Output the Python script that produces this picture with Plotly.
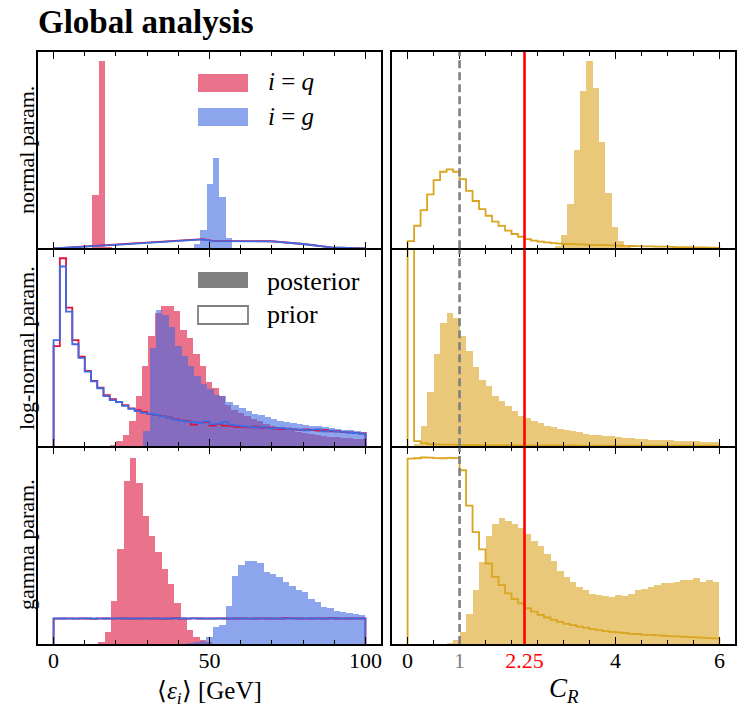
import plotly.graph_objects as go
from plotly.subplots import make_subplots

# --- left column, <eps_i> [GeV] ---
# normal param.
q_norm_post_start, q_norm_post_w = 12.45, 2.05
q_norm_post = [27.0, 95.6, 0.8]
g_norm_post_start, g_norm_post_w = 45.0, 2.05
g_norm_post = [2.4, 9.2, 32.7, 45.8, 25.9, 5.5]
norm_prior_x = [0, 10, 20, 30, 40, 48, 51, 60, 70, 80, 85, 89, 100]
q_norm_prior = [0, 0.9, 1.9, 2.9, 3.9, 4.7, 3.8, 3.7, 3.6, 2.2, 1.2, 0.5, 0]
g_norm_prior = [0, 0.8, 1.8, 2.8, 3.8, 4.6, 3.7, 3.6, 3.5, 2.2, 1.2, 0.5, 0]

# log-normal param.
q_logn_post_start, q_logn_post_w = 18.1, 2.05
q_logn_post = [0.8, 2.5, 5.6, 12.7, 25.4, 40.7, 56.0, 68.0, 71.7, 71.7,
               69.0, 59.3, 55.0, 47.0, 40.7, 32.7, 29.7, 25.4, 21.0, 18.6,
               16.8, 15.2, 14.0, 12.8, 11.6, 10.6, 9.6, 8.7, 7.9, 7.2,
               6.7, 6.2, 5.8, 5.3, 4.9, 4.6, 4.3, 4.1, 3.9, 3.8]
g_logn_post_start, g_logn_post_w = 28.75, 2.05
g_logn_post = [8.0, 50.0, 69.5, 67.0, 61.0, 51.0, 46.0, 40.7, 35.6, 32.0,
               29.0, 26.0, 25.4, 22.5, 21.0, 19.5, 17.8, 16.4, 15.8, 14.7,
               14.0, 13.0, 12.2, 11.7, 11.4, 11.0, 10.5, 10.2, 9.7, 9.3,
               9.0, 8.5, 8.1, 7.6, 7.4]
prior_gev_start, prior_gev_w = 0.0, 2.0
q_logn_prior = [51.0, 95.7, 70.6, 54.0, 45.6, 38.3, 33.2, 29.8, 26.0, 24.0,
                22.6, 20.9, 19.2, 18.4, 17.5, 16.3, 15.8, 15.3, 14.6, 13.8,
                13.1, 12.8, 11.0, 12.0, 12.2, 10.5, 11.2, 10.5, 10.2, 9.8,
                9.8, 9.6, 10.0, 9.3, 9.4, 9.0, 8.7, 8.9, 8.5, 8.3,
                8.6, 8.2, 7.9, 8.3, 7.5, 7.6, 7.2, 7.0, 6.7, 6.5]
g_logn_prior = [54.0, 91.5, 68.5, 51.9, 45.0, 38.0, 33.0, 29.5, 25.5, 23.5,
                22.5, 20.5, 19.0, 17.8, 17.0, 16.5, 16.0, 15.2, 14.5, 13.5,
                13.0, 12.5, 12.3, 11.8, 12.8, 11.2, 11.5, 12.4, 10.8, 10.5,
                10.2, 9.8, 9.5, 9.7, 9.2, 9.1, 9.3, 8.8, 8.6, 8.4,
                8.1, 8.4, 8.6, 7.5, 7.9, 7.4, 7.3, 6.9, 6.7, 6.3]

# gamma param.
q_gam_post_start, q_gam_post_w = 14.4, 2.03
q_gam_post = [1.0, 6.4, 21.9, 48.6, 83.1, 94.9, 82.0, 65.4, 55.3, 46.9,
              38.4, 30.9, 20.9, 13.2, 7.3, 3.9, 2.2, 1.0]
g_gam_post_start, g_gam_post_w = 42.9, 2.04
g_gam_post = [0.5, 1.0, 1.7, 3.9, 8.6, 9.8, 19.6, 35.0, 40.2, 42.7,
              42.2, 41.3, 36.9, 35.6, 34.1, 31.5, 29.8, 27.8, 26.5, 22.9,
              21.6, 19.2, 18.4, 17.2, 16.5, 15.9, 15.3, 14.7]
q_gam_prior = [12.9, 13.0, 13.1, 12.9, 13.0, 13.0, 12.8, 13.1, 13.0, 12.9,
               13.1, 13.0, 12.9, 13.0, 13.1, 12.9, 13.0, 12.8, 13.0, 13.2,
               13.0, 12.9, 13.1, 13.0, 12.9, 13.0, 13.1, 13.0, 12.9, 13.0,
               13.1, 12.9, 13.0, 13.1, 13.0, 12.9, 13.0, 13.2, 13.1, 13.0,
               12.9, 13.0, 13.1, 13.0, 13.2, 13.0, 12.9, 13.0, 13.1, 13.0]
g_gam_prior = [13.0, 13.0, 12.9, 13.0, 13.1, 13.0, 13.0, 12.9, 13.0, 13.0,
               13.1, 13.0, 13.0, 12.9, 13.0, 13.0, 13.1, 13.0, 12.9, 13.0,
               13.0, 13.0, 13.1, 13.0, 13.0, 12.9, 13.0, 13.0, 13.1, 13.0,
               13.0, 12.9, 13.0, 13.0, 13.1, 13.0, 13.0, 12.9, 13.0, 13.0,
               13.1, 13.0, 13.0, 12.9, 13.0, 13.0, 13.1, 13.0, 13.0, 13.0]

# --- right column, C_R ---
prior_cr_start, prior_cr_w = 0.0, 0.125
cr_norm_post_start, cr_norm_post_w = 2.83, 0.122
cr_norm_post = [1.2, 6.8, 22.5, 50.3, 80.0, 95.3, 81.7, 54.2, 28.0, 11.0, 3.6, 0.8]
cr_norm_prior = [3.7, 11.5, 19.5, 27.5, 34.7, 39.0, 40.2, 39.0,
                 35.3, 29.3, 24.1, 20.0, 16.6, 13.6, 11.4, 9.0,
                 7.3, 5.9, 4.7, 3.9, 3.4, 3.0, 2.7, 2.4,
                 2.2, 2.1, 2.0, 1.9, 1.8, 1.7, 1.6, 1.5,
                 1.4, 1.3, 1.2, 1.1, 1.0, 0.95, 0.9, 0.85,
                 0.7, 0.65, 0.6, 0.55, 0.5, 0.45, 0.4, 0.35]
cr_logn_post_start, cr_logn_post_w = 0.125, 0.125
cr_logn_post = [1.0, 10.2, 27.7, 46.8, 62.6, 67.7, 65.5, 56.1, 48.5, 40.5,
                34.0, 30.6, 25.5, 23.0, 20.4, 17.9, 15.6, 14.5, 12.8, 11.9,
                10.5, 9.9, 8.8, 8.5, 7.7, 7.1, 6.5, 6.0, 5.6, 5.4,
                5.1, 4.6, 4.3, 4.1, 3.9, 3.7, 3.4, 3.2, 3.2, 3.1,
                2.9, 2.7, 2.6, 2.6, 2.4, 2.4, 2.2]
cr_logn_prior = [300.0, 2.6, 1.5, 1.1, 0.9, 0.8, 0.75, 0.7,
                 0.65, 0.6, 0.58, 0.55, 0.52, 0.5, 0.48, 0.46,
                 0.44, 0.42, 0.4, 0.39, 0.38, 0.37, 0.36, 0.35,
                 0.34, 0.33, 0.32, 0.31, 0.3, 0.3, 0.29, 0.28,
                 0.28, 0.27, 0.27, 0.26, 0.26, 0.25, 0.25, 0.24,
                 0.24, 0.23, 0.23, 0.22, 0.22, 0.22, 0.21, 0.21]
cr_gam_post_start, cr_gam_post_w = 0.5, 0.125
cr_gam_post = [0.3, 0.3, 0.5, 2.2, 6.4, 15.2, 27.5, 41.8, 55.3, 61.2,
               64.1, 62.9, 61.2, 59.5, 56.2, 52.8, 50.3, 46.0, 42.2, 37.6,
               34.2, 31.7, 29.2, 27.5, 25.8, 25.0, 24.6, 24.1, 25.0, 24.6,
               25.5, 27.5, 28.3, 29.2, 30.0, 31.4, 31.4, 32.0, 32.9, 32.9,
               33.9, 31.7, 32.9, 32.0]
cr_gam_prior = [94.4, 94.6, 95.0, 94.9, 94.7, 94.6, 94.8, 94.7,
                88.5, 70.5, 57.0, 48.2, 41.0, 34.2, 30.0, 25.8,
                22.9, 20.7, 18.2, 16.5, 14.8, 13.5, 12.3, 11.3,
                10.3, 9.6, 8.9, 8.3, 7.6, 7.1, 6.6, 6.2,
                5.9, 5.6, 5.2, 5.1, 4.7, 4.6, 4.4, 4.2,
                4.0, 3.9, 3.7, 3.5, 3.4, 3.2, 3.0, 2.9]

cr_ref = 1.0
cr_true = 2.25
row_names = ["normal param.", "log-normal param.", "gamma param."]
gev_ticks = [0, 50, 100]
cr_ticks = [0, 1, 2.25, 4, 6]
cr_ticktext = ["0", "<span style='color:#808080'>1</span>",
               "<span style='color:red'>2.25</span>", "4", "6"]

RED = "rgba(220,20,60,0.6)"
BLUE = "rgba(65,105,225,0.6)"
GOLD = "rgba(218,165,32,0.6)"
RED_L, BLUE_L, GOLD_L = "crimson", "royalblue", "goldenrod"
FONT = "Liberation Serif"

W, H = 748, 718
ML, MR, MT, MB = 38, 13, 52, 74
PW, PH = W - ML - MR, H - MT - MB
LW = 1.5  # frame line width


def px(xp, yp):
    return (xp - ML) / PW, (H - MB - yp) / PH


# a gap of one line width lets the frames of stacked panels fall on one line
fig = make_subplots(rows=3, cols=2, horizontal_spacing=11 / PW, vertical_spacing=LW / PH)


def bars(start, width, heights, color, row, col):
    xs = [start + width * (i + 0.5) for i in range(len(heights))]
    fig.add_trace(go.Bar(x=xs, y=heights, width=width,
                         marker=dict(color=color, line=dict(width=0)),
                         showlegend=False, hoverinfo="skip"), row=row, col=col)


def steps(start, width, heights, color, row, col):
    edges = [start + width * i for i in range(len(heights) + 1)]
    xs = [edges[0]] + edges[:-1] + [edges[-1]]
    ys = [0] + list(heights) + [0]
    fig.add_trace(go.Scatter(x=xs, y=ys, mode="lines",
                             line=dict(color=color, width=1.8, shape="hv"),
                             showlegend=False, hoverinfo="skip"), row=row, col=col)


# left column
bars(q_norm_post_start, q_norm_post_w, q_norm_post, RED, 1, 1)
bars(g_norm_post_start, g_norm_post_w, g_norm_post, BLUE, 1, 1)
fig.add_trace(go.Scatter(x=norm_prior_x, y=q_norm_prior, mode="lines",
                         line=dict(color=RED_L, width=1.8), showlegend=False), row=1, col=1)
fig.add_trace(go.Scatter(x=norm_prior_x, y=g_norm_prior, mode="lines",
                         line=dict(color=BLUE_L, width=1.8), showlegend=False), row=1, col=1)

bars(q_logn_post_start, q_logn_post_w, q_logn_post, RED, 2, 1)
bars(g_logn_post_start, g_logn_post_w, g_logn_post, BLUE, 2, 1)
steps(prior_gev_start, prior_gev_w, q_logn_prior, RED_L, 2, 1)
steps(prior_gev_start, prior_gev_w, g_logn_prior, BLUE_L, 2, 1)

bars(q_gam_post_start, q_gam_post_w, q_gam_post, RED, 3, 1)
bars(g_gam_post_start, g_gam_post_w, g_gam_post, BLUE, 3, 1)
steps(prior_gev_start, prior_gev_w, q_gam_prior, RED_L, 3, 1)
steps(prior_gev_start, prior_gev_w, g_gam_prior, BLUE_L, 3, 1)

# right column
bars(cr_norm_post_start, cr_norm_post_w, cr_norm_post, GOLD, 1, 2)
steps(prior_cr_start, prior_cr_w, cr_norm_prior, GOLD_L, 1, 2)
bars(cr_logn_post_start, cr_logn_post_w, cr_logn_post, GOLD, 2, 2)
steps(prior_cr_start, prior_cr_w, cr_logn_prior, GOLD_L, 2, 2)
bars(cr_gam_post_start, cr_gam_post_w, cr_gam_post, GOLD, 3, 2)
steps(prior_cr_start, prior_cr_w, cr_gam_prior, GOLD_L, 3, 2)

for r in (1, 2, 3):
    fig.add_vline(x=cr_ref, row=r, col=2, line=dict(color="gray", width=2.6, dash="8px,4px"))
    fig.add_vline(x=cr_true, row=r, col=2, line=dict(color="red", width=2.6))

frame = dict(showline=True, linecolor="black", linewidth=LW, showgrid=False,
             zeroline=False, automargin=False)
for r in (1, 2, 3):
    fig.update_yaxes(range=[0, 100], showticklabels=False, ticks="", mirror=True,
                     row=r, col=1, **frame)
    fig.update_yaxes(range=[0, 100], showticklabels=False, ticks="", mirror=True,
                     row=r, col=2, **frame)
    fig.update_xaxes(range=[-5, 105], tickvals=gev_ticks, ticks="inside", ticklen=7,
                     tickwidth=1.3, tickcolor="black", mirror="ticks",
                     minor=dict(dtick=10, tick0=0, ticks="inside", ticklen=4,
                                tickwidth=1.1, tickcolor="black"),
                     showticklabels=(r == 3), ticklabelstandoff=-4,
                     tickfont=dict(family=FONT, size=22, color="black"),
                     row=r, col=1, **frame)
    fig.update_xaxes(range=[-0.3, 6.3], tickvals=cr_ticks, ticktext=cr_ticktext,
                     ticks="inside", ticklen=7, tickwidth=1.3, tickcolor="black",
                     mirror="ticks",
                     minor=dict(dtick=0.5, tick0=0, ticks="inside", ticklen=4,
                                tickwidth=1.1, tickcolor="black"),
                     showticklabels=(r == 3), ticklabelstandoff=-4,
                     tickfont=dict(family=FONT, size=22, color="black"),
                     row=r, col=2, **frame)

shapes = []
annots = []


def patch(x0, y0, x1, y1, fill, line):
    a0, b0 = px(x0, y0)
    a1, b1 = px(x1, y1)
    shapes.append(dict(type="rect", xref="paper", yref="paper", x0=a0, y0=b0, x1=a1, y1=b1,
                       fillcolor=fill, line=dict(color=line, width=1.8 if line else 0)))


def text(xp, yp, s, size, anchor="left", angle=0, color="black"):
    a, b = px(xp, yp)
    annots.append(dict(x=a, y=b, xref="paper", yref="paper", text=s, showarrow=False,
                       xanchor=anchor, yanchor="middle", textangle=angle,
                       font=dict(family=FONT, size=size, color=color)))


patch(198, 74, 248, 92, RED, None)
patch(198, 108, 248, 126, BLUE, None)
text(266, 82, "<i>i</i> = <i>q</i>", 25)
text(266, 116, "<i>i</i> = <i>g</i>", 25)
patch(198, 272, 248, 288, "#808080", None)
patch(198, 306, 248, 324, "white", "#808080")
text(265, 281, "posterior", 26)
text(265, 314, "prior", 26)

for name, yc in zip(row_names, (150, 348, 545)):
    text(26, yc, name, 22, anchor="center", angle=-90)
text(209.5, 692, "⟨<i>ε<sub>i</sub></i>⟩ [GeV]", 25, anchor="center")
text(563.5, 690, "<i>C<sub>R</sub></i>", 27, anchor="center")
text(36, 22, "<b>Global analysis</b>", 33)

for s in shapes:
    fig.add_shape(**s)
for a in annots:
    fig.add_annotation(**a)

fig.update_layout(width=W, height=H, margin=dict(l=ML, r=MR, t=MT, b=MB),
                  barmode="overlay", bargap=0, plot_bgcolor="white",
                  paper_bgcolor="white", font=dict(family=FONT, color="black"),
                  showlegend=False)

fig.write_html("out.html", config={"displayModeBar": False},
               post_script="document.body.style.margin='0';")
